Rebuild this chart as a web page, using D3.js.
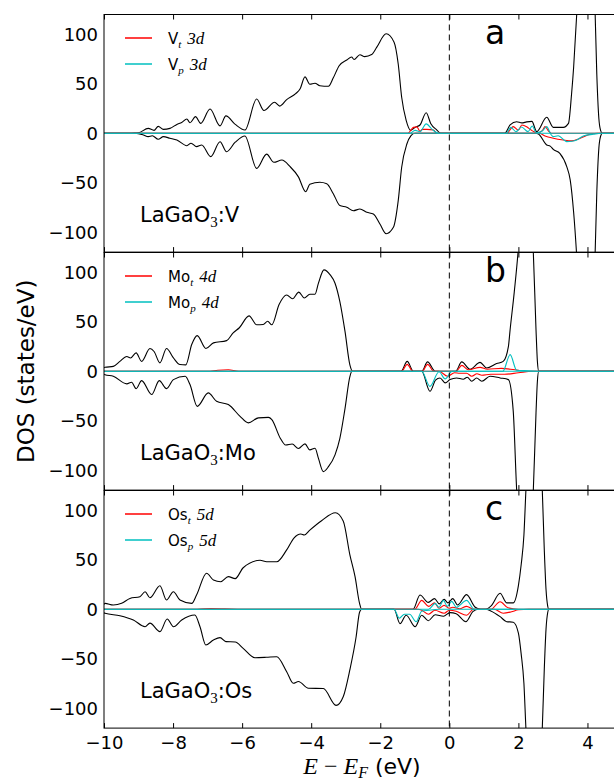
<!DOCTYPE html>
<html>
<head>
<meta charset="utf-8">
<script src="https://cdn.jsdelivr.net/npm/d3@7"></script>
<style>
  body { margin: 0; background: #fff; }
  text { font-family: "DejaVu Sans", sans-serif; }
</style>
</head>
<body>
<script>

// ---- data: [energy (eV), DOS (states/eV)] ----
var xTicks = [-10, -8, -6, -4, -2, 0, 2, 4];
var yTicks = [-100, -50, 0, 50, 100];
var panelLetters = ["a", "b", "c"];
var dopants = ["V", "Mo", "Os"];
var shells = ["3d", "4d", "5d"];

// LaGaO3:V
var vTotUp = [[-10,0],[-9.2,0],[-9.0,0.5],[-8.72,5],[-8.55,3],[-8.43,7],[-8.28,4],[-8.09,5],[-7.89,9],[-7.75,11],[-7.6,14.4],[-7.51,10.7],[-7.35,16.8],[-7.2,10],[-6.93,24.5],[-6.64,7.5],[-6.47,17.6],[-6.2,9],[-5.92,3.3],[-5.58,34.6],[-5.37,23],[-5.06,31.3],[-4.91,27.5],[-4.71,34],[-4.45,40],[-4.32,45],[-4.18,57],[-4.04,49.5],[-3.89,50.5],[-3.75,48.1],[-3.5,47.5],[-3.36,56],[-3.19,68.3],[-2.97,74],[-2.83,77],[-2.76,74.5],[-2.59,79.4],[-2.45,77.4],[-2.25,79.5],[-2.1,87],[-1.83,100.5],[-1.6,92],[-1.48,70],[-1.38,36.4],[-1.25,13],[-1.12,3],[-0.99,6],[-0.85,8.4],[-0.67,20.8],[-0.54,10],[-0.36,3.3],[-0.25,0],[1.6,0],[1.76,8.4],[1.95,11.7],[2.1,10.5],[2.24,11.5],[2.39,12],[2.53,1.7],[2.82,16.2],[3.01,6],[3.3,6],[3.45,10],[3.54,40],[3.6,67],[3.69,121],[3.8,200],[3.95,260],[4.1,240],[4.2,150],[4.27,60],[4.33,15],[4.38,3],[4.43,0],[5,0]];
var vTotDn = [[-10,0],[-9.1,0],[-8.86,-1.7],[-8.72,-3.4],[-8.6,-2.5],[-8.43,-6],[-8.28,-3.4],[-8.09,-5],[-7.89,-6.8],[-7.6,-12.5],[-7.48,-10],[-7.32,-13.5],[-7.17,-11.8],[-6.91,-23.6],[-6.64,-8.5],[-6.45,-18.6],[-6.2,-9],[-5.92,-2.7],[-5.58,-35.4],[-5.29,-21],[-5.08,-29.3],[-4.85,-27],[-4.61,-33.7],[-4.37,-44],[-4.16,-59],[-4.04,-51.5],[-3.75,-49.5],[-3.55,-51],[-3.36,-61],[-3.17,-73],[-2.97,-74.7],[-2.78,-78.2],[-2.59,-76.5],[-2.39,-79.8],[-2.2,-81.5],[-2.01,-91.6],[-1.83,-101.5],[-1.62,-95],[-1.48,-68],[-1.38,-34.3],[-1.23,-10.8],[-1.11,-2.4],[-1.0,0],[2.5,0],[2.58,-0.7],[2.82,-11.8],[2.92,-13],[3.01,-16.2],[3.2,-20.2],[3.4,-33.7],[3.5,-47],[3.6,-80],[3.69,-125],[3.8,-200],[3.95,-260],[4.1,-240],[4.2,-150],[4.27,-60],[4.33,-15],[4.38,-3],[4.43,0],[5,0]];
var vTUp = [[-10,0],[-1.2,0],[-1.04,6],[-0.94,6.5],[-0.85,2],[-0.78,4],[-0.65,4],[-0.46,3.3],[-0.37,0],[1.66,0],[1.85,6.7],[2.0,3.3],[2.1,8.4],[2.24,6.7],[2.38,3],[2.55,0.5],[2.7,3],[2.77,6.7],[2.88,2],[2.95,0],[5,0]];
var vTDn = [[-10,0],[2.6,0],[2.77,-2.7],[3.01,-5],[3.3,-6.8],[3.54,-7.7],[3.79,-5],[4.08,-1],[4.3,0],[5,0]];
var vPUp = [[-10,0],[-1.15,0],[-0.99,3],[-0.85,1.5],[-0.67,9.5],[-0.5,4],[-0.3,0],[1.65,0],[1.78,6],[1.93,1.7],[2.09,6.4],[2.28,1.7],[2.4,7.4],[2.52,0.5],[2.68,2],[2.82,6.7],[2.94,0],[5,0]];
var vPDn = [[-10,0],[2.9,0],[3.01,-3.4],[3.15,-2.5],[3.4,-8.4],[3.55,-8],[3.69,-6.8],[3.88,-2.7],[4.17,-1],[4.4,0],[5,0]];

// LaGaO3:Mo
var moTotUp = [[-10,3.5],[-9.97,4],[-9.73,5],[-9.54,10],[-9.34,15],[-9.23,13.5],[-9.07,18.6],[-8.91,10],[-8.67,23],[-8.55,20],[-8.38,8.5],[-8.19,23],[-7.99,13.5],[-7.8,6.8],[-7.63,6.5],[-7.46,27],[-7.3,36],[-7.05,23],[-6.83,28.7],[-6.45,31],[-6.26,38.8],[-6.08,44],[-5.8,56],[-5.58,47],[-5.39,47.2],[-5.26,50.5],[-5.14,47],[-4.93,67.4],[-4.71,77],[-4.54,73.3],[-4.36,80],[-4.2,74],[-4.04,77.8],[-3.89,77.8],[-3.79,89],[-3.63,102.4],[-3.45,97.4],[-3.31,89],[-3.17,70.4],[-3.02,40],[-2.88,6.5],[-2.8,0],[-1.4,0],[-1.22,10],[-1.04,0],[-0.8,0],[-0.63,9.5],[-0.41,0],[0.18,0],[0.36,9.5],[0.6,2],[0.89,9],[1.08,3.4],[1.37,7.8],[1.56,10],[1.71,25],[1.76,42],[1.88,80],[2.0,125],[2.1,180],[2.22,200],[2.35,170],[2.43,122],[2.51,42],[2.55,10],[2.59,0],[5,0]];
var moTotDn = [[-10,-3],[-9.97,-3.4],[-9.73,-5],[-9.34,-12.7],[-9.2,-11],[-9.07,-17.5],[-8.91,-9.4],[-8.62,-23.5],[-8.4,-9.4],[-8.19,-17.5],[-7.99,-8.4],[-7.65,-5],[-7.51,-13.4],[-7.3,-35.4],[-6.98,-21.8],[-6.74,-30.3],[-6.4,-33.6],[-6.06,-45.5],[-5.82,-52.1],[-5.53,-47],[-5.24,-46.5],[-5.14,-48.8],[-4.9,-67.3],[-4.74,-74.5],[-4.55,-73.5],[-4.37,-78],[-4.18,-73.3],[-4.04,-79.4],[-3.89,-77.8],[-3.79,-88],[-3.65,-101.3],[-3.5,-96.3],[-3.31,-84.4],[-3.17,-67.7],[-3.02,-37.4],[-2.88,-5.4],[-2.82,0],[-0.8,0],[-0.56,-20.2],[-0.4,-9],[-0.27,-6.7],[-0.12,-11.7],[0.02,-8.4],[0.21,-6.7],[0.4,-8],[0.52,-6],[0.65,-10],[0.79,-6.7],[0.94,-10],[1.18,-5],[1.47,-6.7],[1.71,-8.4],[1.85,-40],[1.95,-120],[2.08,-180],[2.22,-200],[2.35,-170],[2.43,-122],[2.51,-42],[2.55,-10],[2.59,0],[5,0]];
var moTUp = [[-10,0],[-7.0,0],[-6.7,1],[-6.4,1.5],[-6.1,0],[-1.38,0],[-1.22,7],[-1.06,0],[-0.78,0],[-0.63,7],[-0.45,0],[0.2,0],[0.36,6],[0.55,1.5],[0.89,4],[1.1,2],[1.5,3],[1.9,1.5],[2.3,0],[5,0]];
var moTDn = [[-10,0],[-0.3,0],[-0.05,-5],[0.15,-1.5],[0.3,-2],[0.5,-2],[0.65,-5],[0.8,-2.5],[0.94,-4],[1.2,-3],[1.6,-3],[2.0,-1.5],[2.4,0],[5,0]];
var moPUp = [[-10,0],[1.55,0],[1.76,16.8],[1.95,1],[2.3,0.5],[2.6,0],[5,0]];
var moPDn = [[-10,0],[-0.8,0],[-0.56,-15.2],[-0.3,-0.5],[-0.12,-7.7],[0.08,0],[5,0]];

// LaGaO3:Os
var osTotUp = [[-10,5],[-9.97,6],[-9.73,4.3],[-9.49,6],[-9.25,11],[-8.96,12.7],[-8.81,17.8],[-8.67,11.7],[-8.38,23.8],[-8.19,9.4],[-7.99,17.8],[-7.8,9.4],[-7.46,6],[-7.32,14.4],[-7.03,36.4],[-6.83,29.6],[-6.62,27.9],[-6.4,33],[-6.2,31],[-5.97,42],[-5.48,49.5],[-5.29,48],[-5.0,48],[-4.71,60],[-4.5,72],[-4.3,76],[-4.2,75],[-4.04,80],[-3.7,89.5],[-3.3,97.6],[-3.07,89],[-2.88,55],[-2.73,32.9],[-2.6,6],[-2.54,0],[-1.05,0],[-0.85,14.4],[-0.61,7],[-0.43,10.8],[-0.29,5.5],[-0.15,10],[-0.04,6.5],[0.1,10.8],[0.24,4.3],[0.5,14.8],[0.74,2.3],[0.9,0],[1.05,0],[1.21,3.4],[1.47,16.2],[1.66,6.5],[1.85,6.5],[2.0,24],[2.08,45],[2.16,75],[2.22,122],[2.35,190],[2.5,200],[2.62,170],[2.69,122],[2.75,60],[2.8,20],[2.85,3],[2.88,0],[5,0]];
var osTotDn = [[-10,-3.5],[-9.97,-4],[-9.54,-6.5],[-9.15,-10.8],[-8.81,-17.6],[-8.67,-14],[-8.38,-22.6],[-8.17,-9.8],[-7.99,-17.6],[-7.75,-10.8],[-7.37,-5.8],[-7.22,-17.6],[-7.05,-36],[-6.83,-31],[-6.64,-28.6],[-6.47,-32.7],[-6.2,-33],[-5.97,-39.4],[-5.63,-48.9],[-5.3,-48.5],[-5.0,-47.9],[-4.71,-63],[-4.52,-74.7],[-4.37,-73],[-4.08,-79.8],[-3.65,-80],[-3.28,-97],[-3.07,-88],[-2.88,-61],[-2.7,-28],[-2.6,-3],[-2.54,0],[-1.6,0],[-1.43,-14.5],[-1.25,-6],[-0.99,-17.6],[-0.8,-6],[-0.61,-11.5],[-0.41,-5.5],[-0.17,-7],[0.02,-3.4],[0.2,-4.5],[0.48,-12.5],[0.68,-2.4],[0.85,0],[1.05,0],[1.2,-1.7],[1.47,-7.4],[1.66,-12.5],[1.85,-13],[2.0,-24],[2.08,-45],[2.16,-75],[2.22,-122],[2.35,-190],[2.5,-200],[2.62,-170],[2.69,-122],[2.75,-60],[2.8,-20],[2.85,-3],[2.88,0],[5,0]];
var osTUp = [[-10,0],[-7.3,0],[-6.9,0.8],[-6.5,0.5],[-6.0,0],[-1.0,0],[-0.8,9],[-0.6,3],[-0.43,6.5],[-0.3,1],[-0.15,4],[0,1],[0.1,2],[0.3,0.5],[0.5,3],[0.7,0],[1.2,0],[1.47,7.7],[1.7,1.5],[2.0,0],[5,0]];
var osTDn = [[-10,0],[-0.9,0],[-0.8,-1],[-0.6,-5],[-0.42,-1],[-0.15,-4],[0,-1],[0.2,-2],[0.5,-6],[0.7,0],[1.3,0],[1.56,-4],[1.8,-2.5],[2.0,-0.5],[2.3,0],[5,0]];
var osPUp = [[-10,0],[-0.6,0],[-0.41,6],[-0.3,2],[-0.17,9],[-0.06,3],[0.07,8],[0.2,2],[0.5,9],[0.72,0],[5,0]];
var osPDn = [[-10,0],[-1.6,0],[-1.45,-9],[-1.3,-5],[-1.15,-5],[-0.96,-12.5],[-0.8,-2],[-0.6,-1],[-0.3,0],[5,0]];

var panelData = [
  {tot: [vTotUp, vTotDn], t: [vTUp, vTDn], p: [vPUp, vPDn]},
  {tot: [moTotUp, moTotDn], t: [moTUp, moTDn], p: [moPUp, moPDn]},
  {tot: [osTotUp, osTotDn], t: [osTUp, osTDn], p: [osPUp, osPDn]}
];

// ---- layout ----
var width = 614, height = 781;
var left = 104, plotW = 518;
var panelTops = [14.5, 252.5, 490.5];
var panelH = 237.6;
var RED = "#ff0000", CYAN = "#00bfbf";

var svg = d3.select("body").append("svg")
    .attr("width", width)
    .attr("height", height);

var xScale = d3.scaleLinear().domain([-10, 5]).range([left, left + plotW]);

function drawPanel(i){
  var top = panelTops[i];
  var yScale = d3.scaleLinear().domain([-120, 120]).range([top + panelH, top]);
  var line = d3.line()
      .x(function(d){ return xScale(d[0]); })
      .y(function(d){ return yScale(d[1]); })
      .curve(d3.curveMonotoneX);

  svg.append("clipPath").attr("id", "clip" + i)
    .append("rect")
      .attr("x", left).attr("y", top)
      .attr("width", plotW).attr("height", panelH);

  var g = svg.append("g").attr("clip-path", "url(#clip" + i + ")");
  var d = panelData[i];

  d.tot.forEach(function(s){
    g.append("path").attr("d", line(s))
      .attr("fill", "none").attr("stroke", "#000").attr("stroke-width", 1.1);
  });
  d.t.forEach(function(s){
    g.append("path").attr("d", line(s))
      .attr("fill", "none").attr("stroke", RED).attr("stroke-width", 1.1);
  });
  d.p.forEach(function(s){
    g.append("path").attr("d", line(s))
      .attr("fill", "none").attr("stroke", CYAN).attr("stroke-width", 1.1);
  });

  // Fermi level
  g.append("line")
      .attr("x1", xScale(0)).attr("x2", xScale(0))
      .attr("y1", top).attr("y2", top + panelH)
      .attr("stroke", "#000").attr("stroke-width", 1)
      .attr("stroke-dasharray", "6,4");

  // axes, ticks pointing inward
  var yAxis = d3.axisLeft(yScale).tickValues(yTicks).tickSize(0).tickPadding(6);
  var gy = svg.append("g").attr("transform", "translate(" + left + ",0)").call(yAxis);
  gy.selectAll("text").attr("font-size", "18px").attr("font-family", "DejaVu Sans");
  gy.select(".domain").remove();

  var xTop = d3.axisTop(xScale).tickValues(xTicks).tickSizeInner(-5).tickSizeOuter(0).tickFormat("");
  svg.append("g").attr("transform", "translate(0," + top + ")").call(xTop)
    .select(".domain").remove();

  var xBot = d3.axisBottom(xScale).tickValues(xTicks).tickSizeInner(-5).tickSizeOuter(0).tickPadding(8);
  if (i < 2) xBot.tickFormat("");
  var gx = svg.append("g").attr("transform", "translate(0," + (top + panelH) + ")").call(xBot);
  gx.select(".domain").remove();
  gx.selectAll("text").attr("font-size", "18px").attr("font-family", "DejaVu Sans");

  svg.append("rect")
      .attr("x", left).attr("y", top)
      .attr("width", plotW).attr("height", panelH)
      .attr("fill", "none").attr("stroke", "#000").attr("stroke-width", 1);

  // legend
  var labels = [["t", RED], ["p", CYAN]];
  labels.forEach(function(l, k){
    var ly = top + 23.5 + k * 26;
    svg.append("line")
        .attr("x1", 125).attr("x2", 152).attr("y1", ly).attr("y2", ly)
        .attr("stroke", l[1]).attr("stroke-width", 1.5);
    var t = svg.append("text").attr("x", 168).attr("y", ly + 5.5)
        .attr("font-size", "15px");
    t.append("tspan").text(dopants[i]);
    t.append("tspan").attr("font-family", "Liberation Serif").attr("font-style", "italic")
        .attr("font-size", "11px").attr("dy", 4).text(l[0]);
    t.append("tspan").attr("font-family", "Liberation Serif").attr("font-style", "italic")
        .attr("font-size", "17px").attr("dy", -4).attr("dx", 6).text(shells[i]);
  });

  // compound label
  var c = svg.append("text").attr("x", 140).attr("y", top + 207.5).attr("font-size", "21px");
  c.append("tspan").text("LaGaO");
  c.append("tspan").attr("font-family", "Liberation Serif").attr("font-size", "15px")
      .attr("dy", 5).text("3");
  c.append("tspan").attr("dy", -5).text(":" + dopants[i]);

  // panel letter
  svg.append("text").attr("x", 485).attr("y", top + 29.5)
      .attr("font-size", "33px").text(panelLetters[i]);
}

for (var i = 0; i < 3; i++) drawPanel(i);

// axis titles
svg.append("text")
    .attr("transform", "translate(34," + (panelTops[1] + panelH / 2) + ") rotate(-90)")
    .attr("text-anchor", "middle")
    .attr("font-size", "23px")
    .text("DOS (states/eV)");

var xl = svg.append("text").attr("x", 362).attr("y", 774)
    .attr("text-anchor", "middle").attr("font-size", "22px");
xl.append("tspan").attr("font-family", "Liberation Serif").attr("font-style", "italic")
    .attr("font-size", "24px").text("E");
xl.append("tspan").attr("font-family", "Liberation Serif").attr("font-size", "24px").text(" \u2212 ");
xl.append("tspan").attr("font-family", "Liberation Serif").attr("font-style", "italic")
    .attr("font-size", "24px").text("E");
xl.append("tspan").attr("font-family", "Liberation Serif").attr("font-style", "italic")
    .attr("font-size", "16px").attr("dy", 4).text("F");
xl.append("tspan").attr("dy", -4).text(" (eV)");

</script>
</body>
</html>
